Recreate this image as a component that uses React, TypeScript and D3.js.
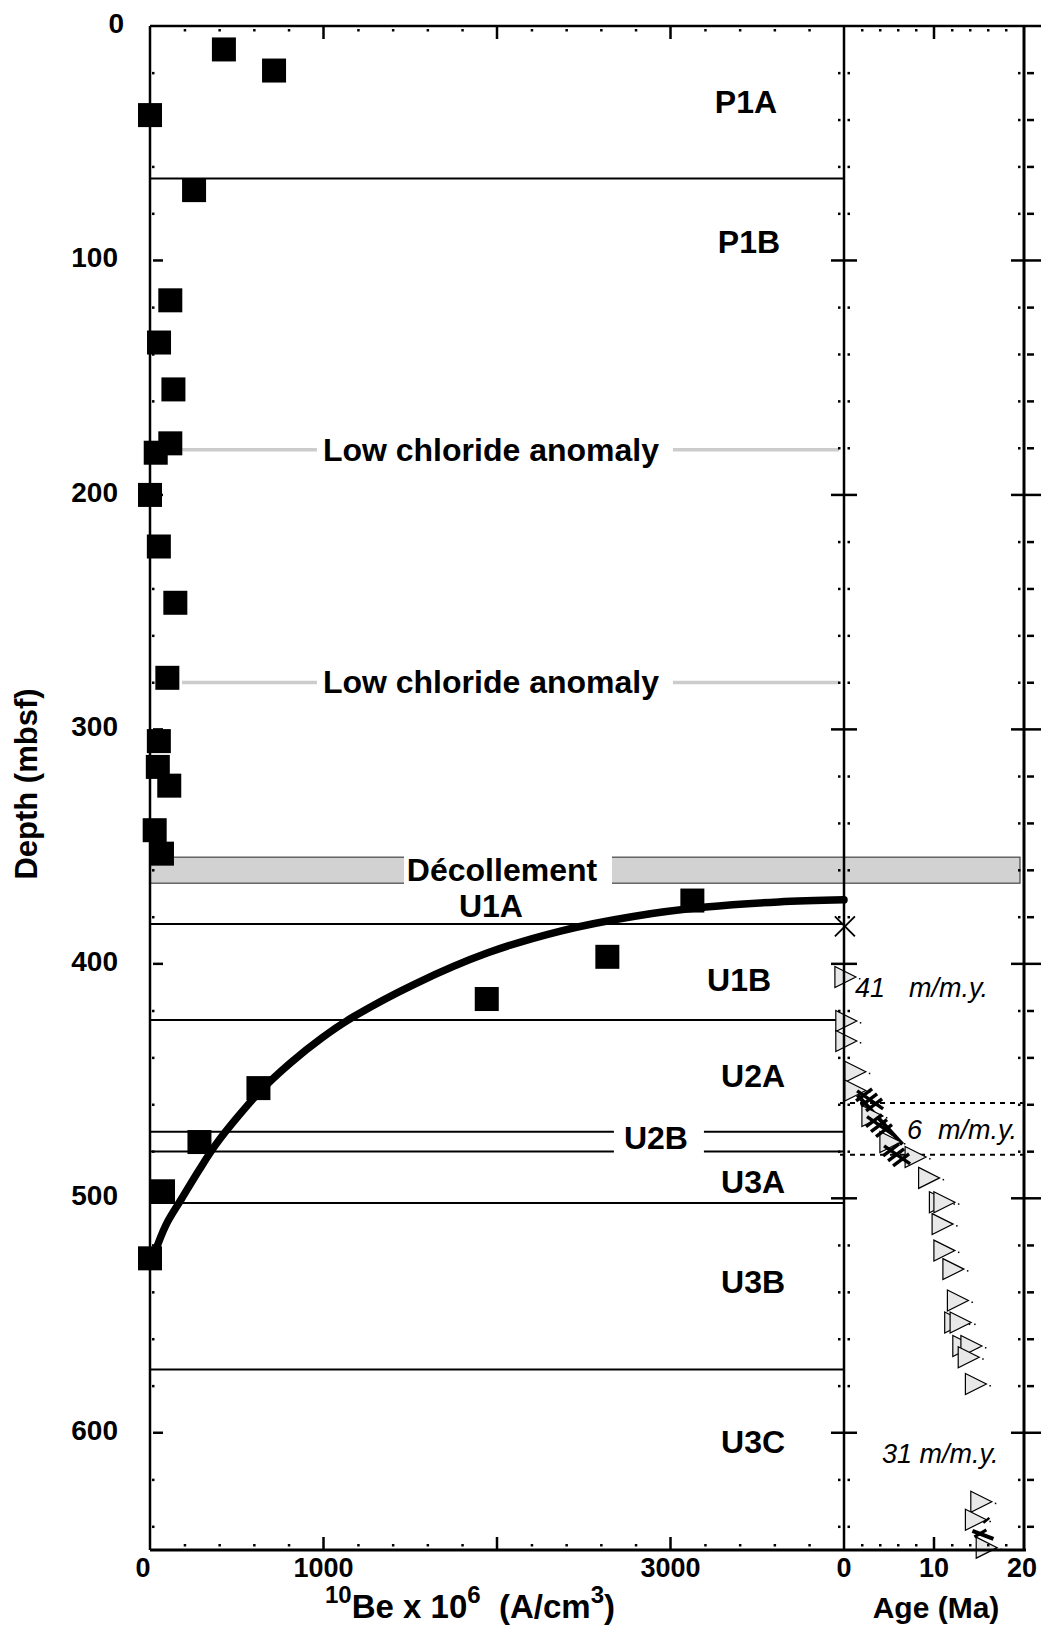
import React from 'react';
import * as d3 from 'd3';

// ---- data ----
const beDepth = [10, 19, 38, 70, 117, 135, 155, 178, 182, 200, 222, 246, 278, 305, 316, 324, 343, 353, 373, 397, 415, 453, 476, 497, 525.6];
const beValue = [426, 715, 0, 254, 117, 52, 135, 117, 33, 0, 51, 146, 100, 51, 45, 111, 27, 69, 3126, 2636, 1941, 625, 285, 75, 0];

const fitBe = [21, 93, 182, 284, 380, 505, 643, 810, 990, 1170, 1529, 1947, 2366, 2785, 3204, 3622, 4000];
const fitDepth = [524.5, 511.2, 500.2, 487.8, 477.0, 465.3, 453.7, 442.2, 431.6, 422.7, 408.5, 395.3, 386.0, 379.8, 375.8, 373.6, 372.7];

const boundaryDepths = [65, 383, 424, 471.6, 480, 502, 573];
const decollementTop = 354.5;
const decollementBottom = 365.6;
const chlorideDepths = [180.7, 280];

const unitNames = ['P1A', 'P1B', 'U1A', 'U1B', 'U2A', 'U2B', 'U3A', 'U3B', 'U3C'];
const unitBe = [3435, 3452, 1965, 3395, 3476, 2916, 3476, 3476, 3476];
const unitDepth = [32.4, 92.1, 375.2, 406.8, 447.7, 474.2, 493.0, 535.6, 603.8];

const triAge = [0.1, 0.2, 0.2, 1.2, 1.2, 3.1, 5.1, 7.9, 9.4, 10.6, 11.1, 10.9, 11.1, 12.1, 12.6, 12.3, 12.9, 13.2, 14.1, 13.8, 14.6, 15.2, 14.6, 15.8];
const triDepth = [405.6, 424.4, 432.9, 446, 454, 464.9, 476, 482.4, 491.3, 501.7, 501.7, 511, 522.3, 530.2, 543.6, 553, 553, 563, 563, 567.8, 579.2, 629.4, 637.1, 649];

const crossAge = [0.1];
const crossDepth = [384];
const hashAge = [2.9, 4.0, 5.9];
const hashDepth = [458, 469, 481.5];
const tickMarkAge = [15.6];
const tickMarkDepth = [641];
const trendAge = [1.5, 6.5];
const trendDepth = [456, 477];
const dashedDepths = [459.3, 481.4];

const depthLabels = [0, 100, 200, 300, 400, 500, 600];
const beLabels = [0, 1000, 3000];
const beMajor = [1000, 2000, 3000];
const ageLabels = [0, 10, 20];

const FONT = '"Liberation Sans", Arial, Helvetica, sans-serif';

export default function App() {
  const W = 1041, H = 1628;
  const x = d3.scaleLinear().domain([0, 4000]).range([150, 844]);
  const a = d3.scaleLinear().domain([0, 20]).range([844, 1024]);
  const y = d3.scaleLinear().domain([0, 650]).range([26, 1550]);
  const X0 = x(0), XM = x(4000), XR = a(20);
  const YT = y(0), YB = y(650);

  const depthMinor = d3.range(20, 650, 20).filter(d => d % 100 !== 0);
  const depthMajor = d3.range(100, 650, 100);
  const beMinor = d3.range(200, 4000, 200).filter(v => v % 1000 !== 0);
  const ageMinor = d3.range(2, 20, 2).filter(v => v !== 10);

  const fitLine = d3.line<number>()
    .x((_, i) => x(fitBe[i]))
    .y((_, i) => y(fitDepth[i]))
    .curve(d3.curveCatmullRom.alpha(0.5));

  const ink = '#000';
  const sq = 24;
  const LF = 32;

  return (
    <svg width={W} height={H} style={{ position: 'absolute', left: 0, top: 0, background: '#fff' }} fontFamily={FONT}>
      <rect x={0} y={0} width={W} height={H} fill="#fff" />

      {/* unit boundaries */}
      {boundaryDepths.map((d, i) => {
        const isU2B = i === 3 || i === 4;
        const yy = y(d);
        if (isU2B) {
          const cx = x(unitBe[5]);
          return (
            <g key={i}>
              <line x1={X0} x2={cx - 42} y1={yy} y2={yy} stroke={ink} strokeWidth={2} />
              <line x1={cx + 48} x2={XM} y1={yy} y2={yy} stroke={ink} strokeWidth={2} />
            </g>
          );
        }
        return <line key={i} x1={X0} x2={XM} y1={yy} y2={yy} stroke={ink} strokeWidth={2} />;
      })}

      {/* low chloride anomaly */}
      {chlorideDepths.map((d, i) => {
        const cx = x(1965);
        const yy = y(d);
        return (
          <g key={i}>
            <line x1={X0 + 32} x2={cx - 174} y1={yy} y2={yy} stroke="#cccccc" strokeWidth={3.5} />
            <line x1={cx + 182} x2={XM - 5} y1={yy} y2={yy} stroke="#cccccc" strokeWidth={3.5} />
            <text x={cx} y={yy + 11} textAnchor="middle" fontSize={LF} fontWeight="bold">Low chloride anomaly</text>
          </g>
        );
      })}

      {/* décollement band */}
      <rect x={X0} y={y(decollementTop)} width={1020 - X0} height={y(decollementBottom) - y(decollementTop)}
        fill="#d2d2d2" stroke="#444" strokeWidth={1.2} />
      <rect x={404} y={y(decollementTop) - 2} width={208} height={y(decollementBottom) - y(decollementTop) + 3} fill="#fff" />
      <text x={502} y={y((decollementTop + decollementBottom) / 2) + 11} textAnchor="middle" fontSize={LF} fontWeight="bold">Décollement</text>

      {/* unit labels */}
      {unitNames.map((n, i) => (
        <text key={n} x={x(unitBe[i])} y={y(unitDepth[i]) + 11} textAnchor="middle" fontSize={LF} fontWeight="bold">{n}</text>
      ))}

      {/* 10Be squares */}
      {beValue.map((v, i) => (
        <rect key={i} x={x(v) - sq / 2} y={y(beDepth[i]) - sq / 2} width={sq} height={sq} fill={ink} />
      ))}

      {/* fitted curve */}
      <path d={fitLine(fitBe) || ''} fill="none" stroke={ink} strokeWidth={7.5} strokeLinecap="round" strokeLinejoin="round" />

      {/* age panel: dashed lines */}
      {dashedDepths.map((d, i) => (
        <line key={i} x1={a(0) - 4} x2={XR} y1={y(d)} y2={y(d)} stroke={ink} strokeWidth={2} strokeDasharray="5 5" />
      ))}

      {/* trend line */}
      <line x1={a(trendAge[0])} y1={y(trendDepth[0])} x2={a(trendAge[1])} y2={y(trendDepth[1])} stroke={ink} strokeWidth={4} />

      {/* triangles */}
      {triAge.map((t, i) => {
        const cx = a(t), cy = y(triDepth[i]);
        return (
          <g key={i}>
            <path d={`M${cx - 10},${cy - 10.5}L${cx + 11},${cy}L${cx - 10},${cy + 10.5}Z`} fill="#e8e8e8" stroke={ink} strokeWidth={1.2} />
            <rect x={cx + 14} y={cy + 1} width={1.5} height={1.5} fill={ink} />
          </g>
        );
      })}

      {/* hash markers */}
      {hashAge.map((t, i) => {
        const cx = a(t), cy = y(hashDepth[i]);
        return (
          <g key={i} stroke={ink} strokeWidth={3.5}>
            <line x1={cx - 13} y1={cy - 9} x2={cx + 13} y2={cy + 9} />
            <line x1={cx - 14} y1={cy + 1} x2={cx + 2} y2={cy - 11} />
            <line x1={cx - 9} y1={cy + 6} x2={cx + 7} y2={cy - 6} />
            <line x1={cx - 4} y1={cy + 11} x2={cx + 12} y2={cy - 1} />
          </g>
        );
      })}
      {tickMarkAge.map((t, i) => {
        const cx = a(t), cy = y(tickMarkDepth[i]);
        return (
          <g key={i} stroke={ink}>
            <line x1={cx - 1} y1={cy - 6} x2={cx + 5} y2={cy - 11} strokeWidth={2.5} />
            <line x1={cx - 12} y1={cy + 2} x2={cx + 9} y2={cy + 10} strokeWidth={4} />
            <line x1={cx - 10} y1={cy + 8} x2={cx + 2} y2={cy + 1} strokeWidth={3} />
          </g>
        );
      })}

      {/* crosses */}
      {crossAge.map((t, i) => {
        const cx = a(t), cy = y(crossDepth[i]);
        return (
          <g key={i} stroke={ink} strokeWidth={1.8}>
            <line x1={cx - 10} y1={cy - 10} x2={cx + 10} y2={cy + 10} />
            <line x1={cx - 10} y1={cy + 10} x2={cx + 10} y2={cy - 10} />
          </g>
        );
      })}

      {/* rate labels */}
      <text x={855} y={997} fontSize={27} fontStyle="italic">41</text>
      <text x={909} y={997} fontSize={27} fontStyle="italic">m/m.y.</text>
      <text x={907} y={1139} fontSize={27} fontStyle="italic">6</text>
      <text x={938} y={1139} fontSize={27} fontStyle="italic">m/m.y.</text>
      <text x={882} y={1463} fontSize={27} fontStyle="italic">31 m/m.y.</text>

      {/* axes frame */}
      <line x1={X0} x2={W} y1={YT} y2={YT} stroke={ink} strokeWidth={2.5} />
      <line x1={X0} x2={XR + 2} y1={YB} y2={YB} stroke={ink} strokeWidth={3} />
      <line x1={X0} x2={X0} y1={YT} y2={YB} stroke={ink} strokeWidth={2.5} />
      <line x1={XM} x2={XM} y1={YT} y2={YB} stroke={ink} strokeWidth={2.5} />
      <line x1={XR} x2={XR} y1={YT} y2={YB} stroke={ink} strokeWidth={3} />

      {/* depth ticks */}
      {depthMinor.map(d => (
        <g key={'dm' + d} fill={ink}>
          <rect x={X0 + 2} y={y(d) - 1} width={2.5} height={2.5} />
          <rect x={XM - 6} y={y(d) - 1} width={2.5} height={2.5} />
          <rect x={XM + 3.5} y={y(d) - 1} width={2.5} height={2.5} />
          <rect x={XR - 6} y={y(d) - 1} width={2.5} height={2.5} />
          <rect x={XR + 3} y={y(d) - 1} width={7} height={2.5} />
        </g>
      ))}
      {depthMajor.map(d => (
        <g key={'dM' + d} stroke={ink} strokeWidth={2.5}>
          <line x1={X0 + 3} x2={X0 + 13} y1={y(d)} y2={y(d)} />
          <line x1={XM - 13} x2={XM + 13} y1={y(d)} y2={y(d)} />
          <line x1={XR - 13} x2={W} y1={y(d)} y2={y(d)} />
        </g>
      ))}

      {/* Be ticks */}
      {beMinor.map(v => (
        <g key={'bm' + v} fill={ink}>
          <rect x={x(v) - 1} y={YT + 3} width={2.5} height={2.5} />
          <rect x={x(v) - 1} y={YB - 6} width={2.5} height={2.5} />
        </g>
      ))}
      {beMajor.map(v => (
        <g key={'bM' + v} stroke={ink} strokeWidth={2.5}>
          <line x1={x(v)} x2={x(v)} y1={YT} y2={YT + 13} />
          <line x1={x(v)} x2={x(v)} y1={YB} y2={YB - 13} />
        </g>
      ))}
      {/* Age ticks */}
      {ageMinor.map(v => (
        <g key={'am' + v} fill={ink}>
          <rect x={a(v) - 1} y={YT + 3} width={2.5} height={2.5} />
          <rect x={a(v) - 1} y={YB - 6} width={2.5} height={2.5} />
        </g>
      ))}
      <g stroke={ink} strokeWidth={2.5}>
        <line x1={a(10)} x2={a(10)} y1={YT} y2={YT + 13} />
        <line x1={a(10)} x2={a(10)} y1={YB} y2={YB - 13} />
      </g>

      {/* tick labels */}
      {depthLabels.map(d => (
        <text key={'dl' + d} x={d === 0 ? 124 : 118} y={y(d) + 7} textAnchor="end" fontSize={28} fontWeight="bold">{d}</text>
      ))}
      {beLabels.map(v => (
        <text key={'bl' + v} x={v === 0 ? x(v) - 7 : x(v)} y={1577} textAnchor="middle" fontSize={27} fontWeight="bold">{v}</text>
      ))}
      {ageLabels.map(v => (
        <text key={'al' + v} x={v === 20 ? a(v) - 2 : a(v)} y={1577} textAnchor="middle" fontSize={27} fontWeight="bold">{v}</text>
      ))}

      {/* axis titles */}
      <text transform="translate(37,784) rotate(-90)" textAnchor="middle" fontSize={31} fontWeight="bold">Depth (mbsf)</text>
      <text x={470} y={1618} textAnchor="middle" fontSize={33} fontWeight="bold">
        <tspan fontSize={24} dy={-15}>10</tspan>
        <tspan dy={15}>Be x 10</tspan>
        <tspan fontSize={24} dy={-15}>6</tspan>
        <tspan dy={15} xmlSpace="preserve">{'  (A/cm'}</tspan>
        <tspan fontSize={24} dy={-15}>3</tspan>
        <tspan dy={15}>)</tspan>
      </text>
      <text x={936} y={1618} textAnchor="middle" fontSize={30} fontWeight="bold">Age (Ma)</text>
    </svg>
  );
}
